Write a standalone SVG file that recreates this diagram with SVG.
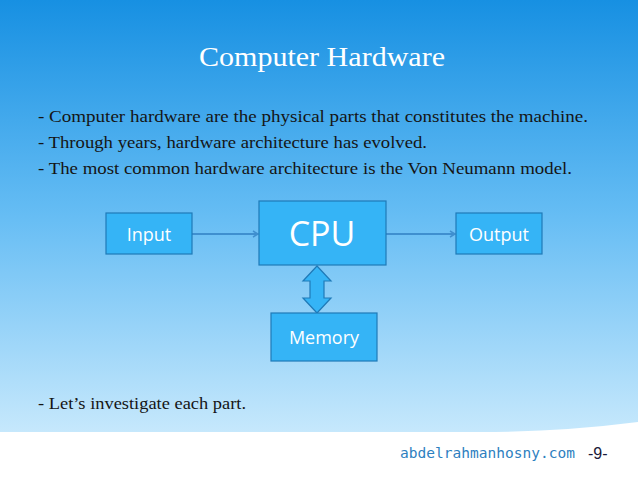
<svg xmlns="http://www.w3.org/2000/svg" width="638" height="478" viewBox="0 0 638 478">
<style>
.box{fill:#35b4f6;stroke:#1f7ab8;stroke-width:1.2}
.bt{font-family:"Open Sans","Liberation Sans",sans-serif;fill:#ffffff;text-anchor:middle}
.tx{font-family:"Liberation Serif",serif;font-size:16.5px;fill:#151515}
.ln{stroke:#3f8fcf;stroke-width:2;fill:none;marker-end:url(#ah)}
</style>
<defs>
<linearGradient id="bg" x1="0" y1="0" x2="0" y2="1">
<stop offset="0" stop-color="#1790e2"/>
<stop offset="0.5" stop-color="#66bdf4"/>
<stop offset="1" stop-color="#c6e8fc"/>
</linearGradient>
<marker id="ah" markerWidth="8" markerHeight="8" refX="6" refY="4" orient="auto" markerUnits="userSpaceOnUse">
<path d="M1,1 L6,4 L1,7" fill="none" stroke="#3f8fcf" stroke-width="1.5"/>
</marker>
</defs>
<rect width="638" height="478" fill="#ffffff"/>
<path d="M0,0 H638 V422 Q560,432 480,432 H0 Z" fill="url(#bg)"/>
<text x="322" y="66" font-family="Liberation Serif,serif" font-size="27" fill="#ffffff" text-anchor="middle" textLength="246" lengthAdjust="spacingAndGlyphs">Computer Hardware</text>
<text class="tx" x="38" y="122" textLength="550" lengthAdjust="spacingAndGlyphs">- Computer hardware are the physical parts that constitutes the machine.</text>
<text class="tx" x="38" y="148" textLength="389" lengthAdjust="spacingAndGlyphs">- Through years, hardware architecture has evolved.</text>
<text class="tx" x="38" y="174" textLength="534" lengthAdjust="spacingAndGlyphs">- The most common hardware architecture is the Von Neumann model.</text>
<text class="tx" x="38" y="409" textLength="208" lengthAdjust="spacingAndGlyphs">- Let’s investigate each part.</text>
<g id="connectors">
<line class="ln" x1="192" y1="234" x2="258" y2="234"/>
<line class="ln" x1="386" y1="234" x2="455" y2="234"/>
<path d="M317,266 L331,281 L324,281 L324,298 L331,298 L317,313 L303,298 L310,298 L310,281 L303,281 Z" class="box"/>
</g>
<g id="input"><rect class="box" x="106" y="213" width="86" height="41"/><text class="bt" x="149" y="241" font-size="18">Input</text></g>
<g id="cpu"><rect class="box" x="259" y="201" width="127" height="64"/><text class="bt" x="322" y="246" font-size="34">CPU</text></g>
<g id="output"><rect class="box" x="456" y="213" width="86" height="41"/><text class="bt" x="499" y="241" font-size="18">Output</text></g>
<g id="memory"><rect class="box" x="271" y="313" width="106" height="48"/><text class="bt" x="324" y="344" font-size="18">Memory</text></g>
<text x="400" y="458" font-family="DejaVu Sans Mono,monospace" font-size="14" fill="#2e7fbf" textLength="175" lengthAdjust="spacingAndGlyphs">abdelrahmanhosny.com</text>
<text x="588" y="459" font-family="Liberation Sans,sans-serif" font-size="16" fill="#1a1a3a">-9-</text>
</svg>
